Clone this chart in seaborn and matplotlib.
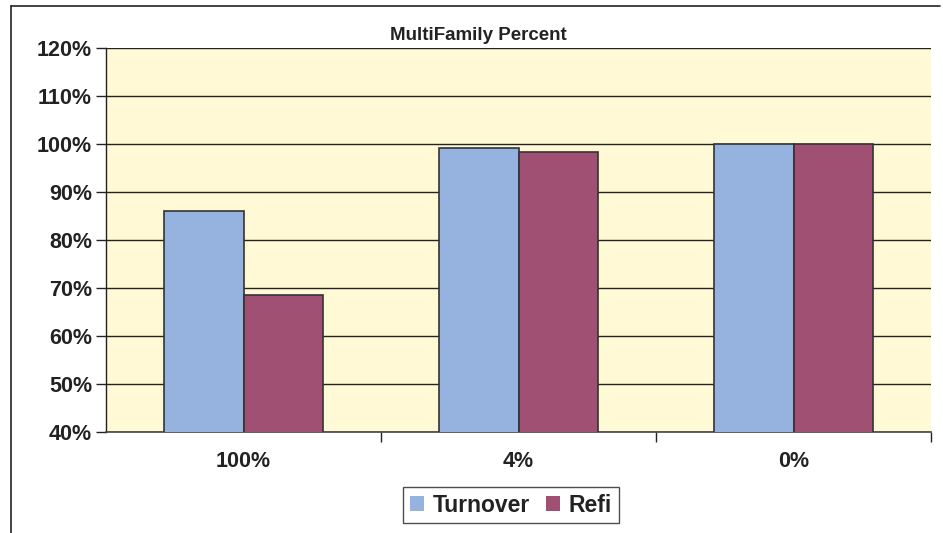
import numpy as np
import pandas as pd
import matplotlib.pyplot as plt
import seaborn as sns
from matplotlib.lines import Line2D
from matplotlib.ticker import FuncFormatter

categories = ["100%", "4%", "0%"]
turnover = [86.0, 99.2, 100.0]
refi = [68.6, 98.4, 100.0]

df = pd.DataFrame({
    "cat": categories * 2,
    "series": ["Turnover"] * 3 + ["Refi"] * 3,
    "value": turnover + refi,
})

sns.set_style("white")
plt.rcParams["font.family"] = ["Liberation Sans", "DejaVu Sans"]
plt.rcParams["font.weight"] = "bold"

fig = plt.figure(figsize=(9.43, 5.33), dpi=100)
ax = fig.add_axes([106 / 943, 1 - 432 / 533, 825 / 943, 384 / 533])
ax.set_facecolor("#FFFAD5")

sns.barplot(
    data=df, x="cat", y="value", hue="series",
    palette={"Turnover": "#95B3DE", "Refi": "#A05073"}, saturation=1,
    width=0.58, edgecolor="#333333", linewidth=1.2,
    ax=ax, legend=True, zorder=3,
)

ax.set_ylim(40, 120)
ax.set_xlim(-0.5, 2.5)
ax.set_yticks(np.arange(40, 121, 10))
ax.yaxis.set_major_formatter(FuncFormatter(lambda v, p: f"{v:.0f}%"))
ax.grid(axis="y", color="#222222", linewidth=1.0, zorder=0)
ax.set_axisbelow(True)
ax.set_xlabel("")
ax.set_ylabel("")

for s in ["top", "right"]:
    ax.spines[s].set_visible(False)
ax.spines["left"].set_color("#222222")
ax.spines["bottom"].set_color("#444444")
ax.spines["left"].set_linewidth(1.0)
ax.spines["bottom"].set_linewidth(1.2)

ax.tick_params(axis="y", direction="out", length=7, width=1, color="#222222",
               labelsize=15.5, pad=3, left=True)
ax.tick_params(axis="x", length=0, labelsize=15.5, pad=14)
ax.set_xticks(minor=False, ticks=[0, 1, 2])
ax.set_xticks([0.5, 1.5, 2.5], minor=True)
ax.tick_params(axis="x", which="minor", direction="out", length=7, width=1,
               color="#222222", bottom=True)
for lab in ax.get_xticklabels() + ax.get_yticklabels():
    lab.set_fontweight("bold")
    lab.set_color("#222222")

leg = ax.legend(
    loc="center", bbox_to_anchor=(511 / 943, 1 - 505 / 533),
    bbox_transform=fig.transFigure, ncol=2, frameon=True, fancybox=False,
    prop={"size": 16.5, "weight": "bold"}, handlelength=0.6, handleheight=0.6,
    handletextpad=0.4, columnspacing=0.7, borderpad=0.3, edgecolor="#222222",
)
leg.get_frame().set_linewidth(1.0)
for h in leg.legend_handles:
    h.set_edgecolor("none")
for t in leg.get_texts():
    t.set_color("#222222")

fig.text(478 / 943, 1 - 35 / 533, "MultiFamily Percent", ha="center",
         va="center", fontsize=13.5, fontweight="bold", color="#222222")

fig.add_artist(Line2D([11 / 943, 11 / 943], [0, 1 - 6 / 533],
                      transform=fig.transFigure, color="#222222", linewidth=1.2))
fig.add_artist(Line2D([11 / 943, 940 / 943], [1 - 6 / 533, 1 - 6 / 533],
                      transform=fig.transFigure, color="#222222", linewidth=1.2))

fig.savefig("out.png", dpi=100)
